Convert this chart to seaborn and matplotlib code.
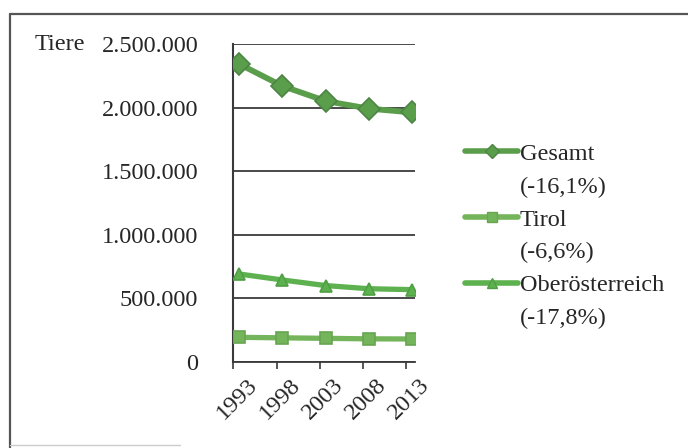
import numpy as np
import pandas as pd
import seaborn as sns
import matplotlib
matplotlib.use("Agg")
import matplotlib.pyplot as plt
import matplotlib.transforms as mtransforms
from matplotlib.lines import Line2D
from matplotlib.ticker import FuncFormatter

# Tierbestand nach Jahr
years = ["1993", "1998", "2003", "2008", "2013"]
gesamt = [2343000, 2170000, 2052000, 1992000, 1962000]
tirol = [194000, 190000, 186000, 182000, 181000]
oberoesterreich = [692000, 645000, 601000, 576000, 569000]
regions = ["Gesamt", "Tirol", "Oberösterreich"]
changes = ["(-16,1%)", "(-6,6%)", "(-17,8%)"]
y_ticks = [0, 500000, 1000000, 1500000, 2000000, 2500000]

df = pd.DataFrame({
    "pos": list(range(len(years))) * 3,
    "Tiere": gesamt + tirol + oberoesterreich,
    "Region": [r for r in regions for _ in years],
})

sns.set_theme(style="white")
plt.rcParams["font.family"] = ["Liberation Serif", "DejaVu Serif"]
FS = 17.5

colors = {"Gesamt": "#5a9e4c", "Tirol": "#74b45a", "Oberösterreich": "#5db14e"}
edge = {"Gesamt": "#4d8544", "Tirol": "#68a552", "Oberösterreich": "#4fa044"}
markers = {"Gesamt": "D", "Tirol": "s", "Oberösterreich": "^"}

fig = plt.figure(figsize=(6.88, 4.48), dpi=100)
ax = fig.add_axes([233 / 688, 1 - 362 / 448, (415 - 233) / 688, (362 - 44) / 448])

for r in regions:
    sub = df[df["Region"] == r]
    sns.lineplot(data=sub, x="pos", y="Tiere", ax=ax, color=colors[r],
                 marker=markers[r], markersize=11 if r == "Gesamt" else 9,
                 markeredgecolor=edge[r], markeredgewidth=1.2,
                 linewidth=4.2 if r == "Gesamt" else 3.8, legend=False, zorder=3)

ax.set_xlim(-0.14, 4.07)
ax.set_ylim(0, 2500000)
ax.set_yticks(y_ticks)
ax.yaxis.set_major_formatter(FuncFormatter(lambda v, p: f"{int(v):,}".replace(",", ".")))
ax.grid(axis="y", color="#3a3a3a", linewidth=1.3)
ax.set_axisbelow(True)
ax.set_xlabel("")
ax.set_ylabel("")

for s in ["top", "right"]:
    ax.spines[s].set_visible(False)
ax.spines["left"].set_color("#3a3a3a")
ax.spines["left"].set_linewidth(1.5)
ax.spines["bottom"].set_color("#3a3a3a")
ax.spines["bottom"].set_linewidth(1.3)

ax.set_xticks(np.arange(len(years)) - 0.13)
ax.set_xticklabels(years, rotation=45, ha="right", rotation_mode="anchor", fontsize=FS)
ax.tick_params(axis="x", direction="out", length=5, width=1.2, color="#3a3a3a", pad=4, bottom=True)
ax.tick_params(axis="y", length=0, pad=25, labelsize=FS)
offset = mtransforms.ScaledTranslation(13 / 100, 0, fig.dpi_scale_trans)
for lab in ax.get_xticklabels():
    lab.set_transform(lab.get_transform() + offset)

fig.text(35 / 688, 1 - 44 / 448, "Tiere", fontsize=FS, ha="left", va="center")

# Legende: je Region eine Zeile mit Symbol und eine Zeile mit Veränderung
handles, labels = [], []
for r, c in zip(regions, changes):
    handles.append(Line2D([], [], color=colors[r], linewidth=4, marker=markers[r],
                          markersize=7, markeredgecolor=edge[r]))
    labels.append(r)
    handles.append(Line2D([], [], color="none"))
    labels.append(c)
fig.legend(handles, labels, loc="center left", bbox_to_anchor=(465 / 688, 1 - 236 / 448),
           frameon=False, fontsize=FS, handlelength=2.2, handletextpad=0.05,
           labelspacing=0.45, borderpad=0, borderaxespad=0)

# Rahmen
fig.add_artist(Line2D([10 / 688, 1], [1 - 14 / 448] * 2, color="#555555", linewidth=1.6))
fig.add_artist(Line2D([10 / 688] * 2, [1 - 14 / 448, 0], color="#555555", linewidth=1.6))
fig.add_artist(Line2D([10 / 688, 180 / 688], [1 - 445 / 448] * 2, color="#cccccc", linewidth=1.0))

fig.savefig("out.png", dpi=100)
